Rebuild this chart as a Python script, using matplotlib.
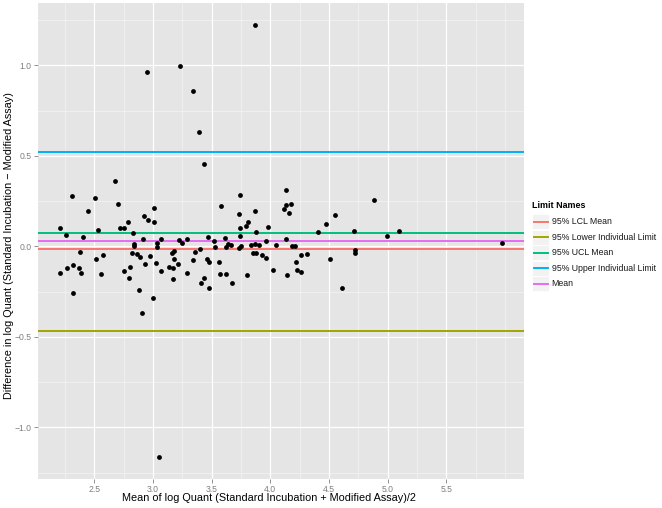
import matplotlib
matplotlib.use("Agg")
import matplotlib.pyplot as plt
from matplotlib.patches import Rectangle
from matplotlib.lines import Line2D
import numpy as np

plt.rcParams['font.family'] = ['Liberation Sans', 'DejaVu Sans']

# ---- data ----
mean_x = [3.873, 2.951, 3.235, 3.340, 3.396, 3.436, 2.676, 2.310, 2.509, 2.704,
          2.449, 3.740, 3.581, 3.731, 3.870, 3.808, 3.791, 3.743, 2.926, 2.960,
          3.013, 3.011, 2.787, 2.750, 2.724, 2.530, 2.210, 2.264, 2.406, 2.829,
          2.920, 3.068, 3.039, 2.838, 2.838, 3.223, 3.251, 3.289, 3.467, 3.521,
          3.612, 3.637, 3.663, 3.530, 3.620, 3.745, 3.753, 3.734, 3.836, 3.879,
          3.873, 3.900, 3.405, 3.357, 3.178, 3.184, 3.039, 2.974, 2.381, 2.514,
          2.574, 2.820, 2.868, 2.891, 3.462, 3.340, 3.850, 3.878,
          2.210, 2.273, 2.321, 2.372, 2.392, 2.321, 2.562, 2.750, 2.795, 2.809,
          2.886, 2.906, 2.937, 3.002, 3.025, 3.070, 3.138, 3.166, 3.175, 3.175,
          3.218, 3.289, 3.413, 3.434, 3.479, 3.481, 3.564, 3.572, 3.623, 3.672,
          3.805,
          4.137, 4.131, 4.119, 4.174, 4.162, 4.886, 4.548, 4.472, 3.978, 4.131,
          3.964, 4.406, 4.713, 5.098, 4.994, 4.049, 4.181, 4.208, 3.927, 3.961,
          4.258, 4.316, 4.506, 4.724, 4.724,
          4.026, 4.139, 4.221, 4.230, 4.259, 4.608,
          3.056, 5.972]
diff_y = [1.225, 0.965, 0.996, 0.858, 0.634, 0.457, 0.363, 0.276, 0.267, 0.236,
          0.197, 0.283, 0.221, 0.179, 0.195, 0.136, 0.114, 0.101, 0.170, 0.144,
          0.210, 0.136, 0.133, 0.101, 0.099, 0.092, 0.103, 0.061, 0.054, 0.072,
          0.040, 0.040, 0.017, 0.013, 0.002, 0.037, 0.018, 0.043, 0.054, 0.031,
          0.044, 0.015, 0.009, -0.002, -0.006, 0.059, 0.000, -0.011, 0.009, 0.077,
          0.013, 0.007, -0.013, -0.029, -0.024, -0.072, -0.006, -0.055, -0.033, -0.068,
          -0.050, -0.037, -0.043, -0.057, -0.070, -0.076, -0.039, -0.039,
          -0.147, -0.122, -0.105, -0.120, -0.145, -0.258, -0.151, -0.134, -0.175, -0.114,
          -0.241, -0.366, -0.099, -0.286, -0.094, -0.136, -0.114, -0.037, -0.122, -0.178,
          -0.099, -0.147, -0.204, -0.173, -0.088, -0.230, -0.087, -0.155, -0.155, -0.201,
          -0.160,
          0.313, 0.230, 0.208, 0.232, 0.184, 0.258, 0.173, 0.125, 0.105, 0.040,
          0.031, 0.079, 0.085, 0.083, 0.055, 0.006, 0.004, 0.000, -0.046, -0.065,
          -0.050, -0.040, -0.070, -0.018, -0.039,
          -0.129, -0.160, -0.087, -0.133, -0.144, -0.230,
          -1.166, 0.017]

limit_names = ["95% LCL Mean", "95% Lower Individual Limit", "95% UCL Mean",
               "95% Upper Individual Limit", "Mean"]
limit_values = [-0.014, -0.467, 0.072, 0.521, 0.029]
limit_colors = ["#F8766D", "#A3A500", "#00BF7D", "#00B0F6", "#E76BF3"]

x_major = [2.5, 3.0, 3.5, 4.0, 4.5, 5.0, 5.5]
x_minor = [2.25, 2.75, 3.25, 3.75, 4.25, 4.75, 5.25, 5.75, 6.0]
y_major = [-1.0, -0.5, 0.0, 0.5, 1.0]
y_minor = [-1.25, -0.75, -0.25, 0.25, 0.75, 1.25]

W, H = 662, 508
fig = plt.figure(figsize=(W / 100, H / 100), dpi=100)
L, R, T, B = 38, 524, 3, 479
ax = fig.add_axes([L / W, 1 - B / H, (R - L) / W, (B - T) / H])
ax.set_facecolor("#E5E5E5")
for s in ax.spines.values():
    s.set_visible(False)

xa, ya = np.array(mean_x), np.array(diff_y)
xr = xa.max() - xa.min()
yr = ya.max() - ya.min()
ax.set_xlim(xa.min() - 0.05 * xr, xa.max() + 0.05 * xr)
ax.set_ylim(ya.min() - 0.05 * yr, ya.max() + 0.05 * yr)

for v in x_minor:
    ax.axvline(v, color="#F2F2F2", lw=0.6, zorder=0.5)
for v in y_minor:
    ax.axhline(v, color="#F2F2F2", lw=0.6, zorder=0.5)
for v in x_major:
    ax.axvline(v, color="white", lw=0.9, zorder=0.6)
for v in y_major:
    ax.axhline(v, color="white", lw=0.9, zorder=0.6)

for name, val, col in zip(limit_names, limit_values, limit_colors):
    ax.axhline(val, color=col, lw=1.4, zorder=1)

ax.scatter(mean_x, diff_y, s=12, color="black", zorder=3, linewidths=0)

ax.set_xticks(x_major)
ax.set_xticklabels([f"{v:.1f}" for v in x_major])
ax.set_yticks(y_major)
ax.set_yticklabels([f"{v:.1f}".replace("-", "\u2212") for v in y_major])
ax.tick_params(axis="both", which="major", length=3, width=0.6, color="#7F7F7F",
               labelcolor="#7F7F7F", labelsize=6.2, pad=1.5)

fig.text(269 / W, 1 - 498 / H,
         "Mean of log Quant (Standard Incubation + Modified Assay)/2",
         ha="center", va="center", fontsize=7.85, color="black")
fig.text(9 / W, 1 - 246 / H,
         "Difference in log Quant (Standard Incubation \u2212 Modified Assay)",
         ha="center", va="center", rotation=90, fontsize=7.85, color="black")

# legend (manual, ggplot style)
fig.text(532 / W, 1 - 206 / H, "Limit Names", ha="left", va="center",
         fontsize=6.4, fontweight="bold", color="black")
for i, (name, col) in enumerate(zip(limit_names, limit_colors)):
    yc = 221.7 + i * 15.5
    fig.patches.append(Rectangle((532 / W, 1 - (yc + 7.5) / H), 17 / W, 15 / H,
                                 transform=fig.transFigure, facecolor="#F2F2F2",
                                 edgecolor="white", lw=0.6))
    fig.lines.append(Line2D([533.5 / W, 547.5 / W], [1 - yc / H, 1 - yc / H],
                            transform=fig.transFigure, color=col, lw=1.4))
    fig.text(551.5 / W, 1 - yc / H, name, ha="left", va="center",
             fontsize=6.3, color="#1A1A1A")

fig.savefig("out.png", dpi=100)
